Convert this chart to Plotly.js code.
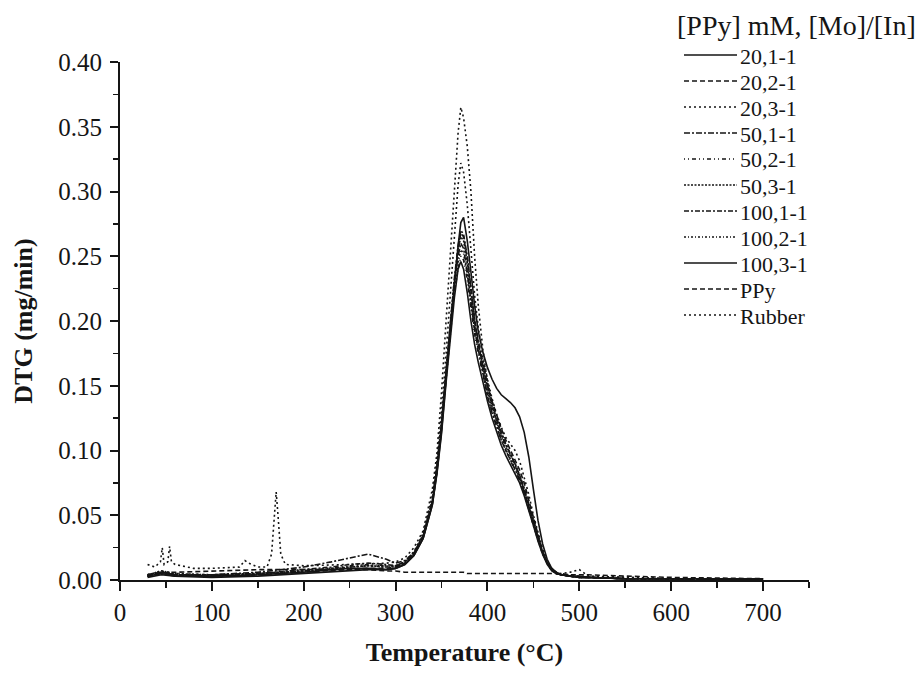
<!DOCTYPE html>
<html>
<head>
<meta charset="utf-8">
<script src="https://cdn.plot.ly/plotly-3.0.1.min.js"></script>
<style>html,body{margin:0;padding:0;background:#fff;}#chart{width:921px;height:677px;}</style>
</head>
<body>
<div id="chart"></div>
<script>
// Temperature grid (°C) shared by the composite samples
var tempMain = [30, 45, 60, 100, 150, 200, 230, 250, 270, 290,
  300, 310, 320, 330, 340, 345, 350, 355, 360, 364,
  368, 371, 374, 378, 382, 386, 390, 395, 400, 405,
  410, 415, 420, 425, 430, 435, 440, 445, 450, 455,
  460, 465, 470, 475, 480, 490, 500, 510, 550, 600, 700];

// DTG (mg/min) values
var s20_1 = [0.002, 0.004, 0.003, 0.003, 0.004, 0.006, 0.008, 0.009, 0.009, 0.008,
  0.009, 0.012, 0.019, 0.032, 0.058, 0.083, 0.115, 0.157, 0.198, 0.228,
  0.258, 0.276, 0.280, 0.262, 0.238, 0.212, 0.192, 0.176, 0.164, 0.155,
  0.148, 0.143, 0.140, 0.137, 0.133, 0.126, 0.114, 0.095, 0.070, 0.046,
  0.028, 0.016, 0.009, 0.006, 0.004, 0.003, 0.002, 0.002, 0.001, 0.001, 0.001];
var s20_2 = [0.003, 0.006, 0.004, 0.003, 0.004, 0.006, 0.007, 0.008, 0.009, 0.009,
  0.010, 0.013, 0.020, 0.033, 0.060, 0.085, 0.118, 0.160, 0.200, 0.230,
  0.255, 0.268, 0.265, 0.248, 0.225, 0.200, 0.182, 0.165, 0.150, 0.138,
  0.127, 0.117, 0.108, 0.100, 0.093, 0.085, 0.075, 0.062, 0.048, 0.034,
  0.022, 0.013, 0.008, 0.005, 0.004, 0.003, 0.002, 0.002, 0.001, 0.001, 0.001];
var s20_3 = [0.004, 0.007, 0.005, 0.004, 0.005, 0.007, 0.009, 0.010, 0.011, 0.010,
  0.011, 0.014, 0.022, 0.036, 0.065, 0.092, 0.130, 0.175, 0.225, 0.265,
  0.305, 0.322, 0.315, 0.290, 0.255, 0.220, 0.195, 0.172, 0.155, 0.140,
  0.128, 0.118, 0.110, 0.105, 0.100, 0.092, 0.080, 0.066, 0.050, 0.036,
  0.024, 0.014, 0.009, 0.006, 0.005, 0.006, 0.008, 0.003, 0.002, 0.001, 0.001];
var s50_1 = [0.004, 0.006, 0.004, 0.004, 0.006, 0.010, 0.014, 0.017, 0.020, 0.016,
  0.013, 0.015, 0.021, 0.034, 0.060, 0.086, 0.120, 0.160, 0.200, 0.228,
  0.250, 0.260, 0.256, 0.238, 0.215, 0.193, 0.178, 0.160, 0.142, 0.129,
  0.118, 0.108, 0.100, 0.093, 0.086, 0.078, 0.068, 0.057, 0.045, 0.032,
  0.021, 0.013, 0.008, 0.005, 0.004, 0.003, 0.002, 0.002, 0.001, 0.001, 0.000];
var s50_2 = [0.003, 0.005, 0.004, 0.003, 0.004, 0.007, 0.009, 0.011, 0.012, 0.011,
  0.011, 0.013, 0.020, 0.033, 0.059, 0.084, 0.117, 0.156, 0.195, 0.222,
  0.240, 0.250, 0.247, 0.232, 0.210, 0.190, 0.175, 0.158, 0.143, 0.130,
  0.118, 0.108, 0.100, 0.092, 0.085, 0.077, 0.066, 0.055, 0.043, 0.031,
  0.021, 0.013, 0.008, 0.005, 0.004, 0.003, 0.002, 0.002, 0.001, 0.001, 0.000];
var s50_3 = [0.003, 0.005, 0.004, 0.003, 0.005, 0.007, 0.008, 0.010, 0.011, 0.010,
  0.010, 0.013, 0.020, 0.034, 0.061, 0.087, 0.121, 0.162, 0.203, 0.232,
  0.255, 0.265, 0.262, 0.245, 0.222, 0.200, 0.183, 0.165, 0.148, 0.134,
  0.122, 0.112, 0.104, 0.097, 0.090, 0.081, 0.070, 0.058, 0.046, 0.033,
  0.022, 0.013, 0.008, 0.005, 0.004, 0.003, 0.002, 0.002, 0.001, 0.001, 0.000];
var s100_1 = [0.003, 0.006, 0.004, 0.004, 0.005, 0.008, 0.010, 0.012, 0.013, 0.012,
  0.011, 0.014, 0.021, 0.034, 0.061, 0.087, 0.121, 0.162, 0.203, 0.233,
  0.258, 0.270, 0.267, 0.250, 0.226, 0.202, 0.185, 0.167, 0.151, 0.137,
  0.125, 0.114, 0.105, 0.097, 0.089, 0.081, 0.071, 0.059, 0.046, 0.033,
  0.022, 0.013, 0.008, 0.005, 0.004, 0.003, 0.002, 0.002, 0.001, 0.001, 0.000];
var s100_2 = [0.004, 0.007, 0.005, 0.004, 0.005, 0.007, 0.009, 0.010, 0.011, 0.011,
  0.011, 0.014, 0.021, 0.035, 0.062, 0.088, 0.122, 0.160, 0.198, 0.225,
  0.245, 0.255, 0.252, 0.236, 0.214, 0.194, 0.179, 0.162, 0.146, 0.133,
  0.121, 0.111, 0.102, 0.094, 0.087, 0.079, 0.069, 0.057, 0.045, 0.032,
  0.021, 0.013, 0.008, 0.005, 0.004, 0.003, 0.002, 0.002, 0.001, 0.001, 0.000];
var s100_3 = [0.003, 0.005, 0.003, 0.002, 0.003, 0.005, 0.006, 0.007, 0.008, 0.008,
  0.009, 0.012, 0.019, 0.032, 0.058, 0.082, 0.113, 0.153, 0.190, 0.218,
  0.240, 0.246, 0.240, 0.222, 0.200, 0.182, 0.168, 0.152, 0.138, 0.125,
  0.114, 0.104, 0.096, 0.089, 0.083, 0.075, 0.065, 0.054, 0.042, 0.030,
  0.020, 0.012, 0.007, 0.005, 0.004, 0.003, 0.003, 0.002, 0.001, 0.001, 0.001];
var sPPy = [0.004, 0.006, 0.006, 0.007, 0.008, 0.008, 0.008, 0.008, 0.008, 0.007,
  0.007, 0.006, 0.006, 0.006, 0.006, 0.006, 0.006, 0.006, 0.006, 0.006,
  0.006, 0.006, 0.006, 0.005, 0.005, 0.005, 0.005, 0.005, 0.005, 0.005,
  0.005, 0.005, 0.005, 0.005, 0.005, 0.005, 0.005, 0.005, 0.005, 0.005,
  0.005, 0.005, 0.005, 0.005, 0.005, 0.004, 0.004, 0.004, 0.003, 0.002, 0.001];

// Rubber has its own sampling (sharp low-temperature spikes)
var tempRubber = [30, 38, 44, 46, 48, 52, 54, 56, 60, 80,
  100, 130, 136, 140, 150, 160, 165, 168, 170, 172,
  175, 180, 200, 250, 290, 300, 310, 320, 330, 340,
  345, 350, 355, 360, 364, 368, 371, 374, 378, 382,
  386, 390, 395, 400, 410, 420, 430, 440, 450, 460,
  470, 480, 500, 550, 600, 700];
var sRubber = [0.012, 0.010, 0.014, 0.025, 0.012, 0.014, 0.026, 0.014, 0.012, 0.009,
  0.009, 0.010, 0.015, 0.013, 0.010, 0.010, 0.020, 0.050, 0.068, 0.050,
  0.020, 0.012, 0.011, 0.012, 0.013, 0.014, 0.017, 0.025, 0.038, 0.070,
  0.098, 0.145, 0.200, 0.260, 0.300, 0.345, 0.365, 0.357, 0.335, 0.300,
  0.250, 0.212, 0.178, 0.153, 0.123, 0.105, 0.090, 0.068, 0.042, 0.020,
  0.007, 0.004, 0.003, 0.002, 0.001, 0.001];

var seriesNames = ["20,1-1", "20,2-1", "20,3-1", "50,1-1", "50,2-1", "50,3-1",
  "100,1-1", "100,2-1", "100,3-1", "PPy", "Rubber"];
var legendTitle = "[PPy] mM, [Mo]/[In]";
var seriesValues = [s20_1, s20_2, s20_3, s50_1, s50_2, s50_3, s100_1, s100_2, s100_3, sPPy, sRubber];
var seriesTemps = [tempMain, tempMain, tempMain, tempMain, tempMain, tempMain,
  tempMain, tempMain, tempMain, tempMain, tempRubber];

// styles
var dashes = ["solid", "5px,3px", "2px,3px", "6px,2px,2px,2px", "1px,3px,1px,3px,4px,3px",
  "2px,1.5px", "5px,2px,2px,2px", "2px,2px,1px,2px", "solid", "5px,3px", "2px,3px"];
var ink = "#151515";
var serif = "Liberation Serif, Times New Roman, serif";

var traces = seriesNames.map(function (n, i) {
  return {
    x: seriesTemps[i], y: seriesValues[i], name: n, type: "scatter", mode: "lines",
    showlegend: false,
    line: {color: ink, width: 1.6, dash: dashes[i]}
  };
});

// Legend drawn as key lines + labels (compact spacing like the reference)
var plotL = 120, plotR = 809, plotT = 62, plotB = 580;
function px(xp) { return (xp - plotL) / (plotR - plotL); }
function py(yp) { return (plotB - yp) / (plotB - plotT); }
var shapes = [], annotations = [];
annotations.push({text: legendTitle, xref: "paper", yref: "paper", x: px(917), y: py(25),
  xanchor: "right", yanchor: "middle", showarrow: false, borderpad: 0,
  font: {family: serif, size: 28, color: ink}});
seriesNames.forEach(function (n, i) {
  var yc = 55 + 26 * i;
  shapes.push({type: "line", xref: "paper", yref: "paper", x0: px(684), x1: px(737), y0: py(yc), y1: py(yc),
    line: {color: ink, width: 1.6, dash: dashes[i]}});
  annotations.push({text: n, xref: "paper", yref: "paper", x: px(739), y: py(yc + 1), xanchor: "left",
    yanchor: "middle", showarrow: false, borderpad: 0, font: {family: serif, size: 22, color: ink}});
});

var layout = {
  width: 921, height: 677,
  margin: {l: plotL, r: 921 - plotR, t: plotT, b: 677 - plotB},
  paper_bgcolor: "#fff", plot_bgcolor: "#fff",
  font: {family: serif, color: ink, size: 24},
  showlegend: false,
  shapes: shapes,
  annotations: annotations,
  xaxis: {
    range: [0, 750], showgrid: false, zeroline: false, showline: true, linecolor: ink, linewidth: 2,
    ticks: "outside", ticklen: 9, tickwidth: 2, tickcolor: ink, tickvals: [0, 100, 200, 300, 400, 500, 600, 700],
    minor: {dtick: 50, tick0: 0, ticks: "outside", ticklen: 6, tickwidth: 1.6, tickcolor: ink},
    tickfont: {family: serif, size: 25, color: ink},
    title: {text: "<b>Temperature (°C)</b>", font: {family: serif, size: 26, color: ink}, standoff: 18}
  },
  yaxis: {
    range: [0, 0.40], showgrid: false, zeroline: false, showline: true, linecolor: ink, linewidth: 2,
    ticks: "outside", ticklen: 8, tickwidth: 2, tickcolor: ink, dtick: 0.05, tick0: 0, tickformat: ".2f",
    minor: {dtick: 0.025, tick0: 0, ticks: "outside", ticklen: 5, tickwidth: 1.6, tickcolor: ink},
    tickfont: {family: serif, size: 25, color: ink},
    ticklabelstandoff: 3,
    title: {text: "<b>DTG (mg/min)</b>", font: {family: serif, size: 26, color: ink}, standoff: 18}
  }
};
Plotly.newPlot("chart", traces, layout, {displayModeBar: false, staticPlot: true});
</script>
</body>
</html>
